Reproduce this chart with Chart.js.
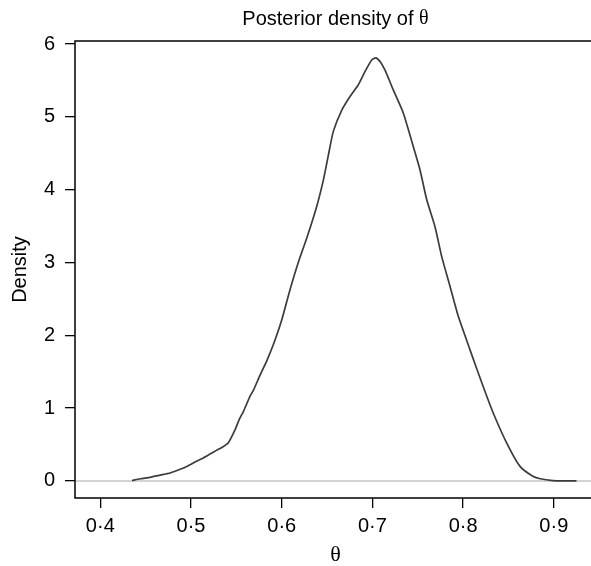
<!DOCTYPE html>
<html>
<head>
<meta charset="utf-8">
<script src="https://cdn.jsdelivr.net/npm/chart.js@4.4.1/dist/chart.umd.min.js"></script>
<style>
  html, body { margin: 0; padding: 0; background: #fff; overflow: hidden; }
  #wrap { width: 591px; height: 566px; overflow: hidden; }
</style>
</head>
<body>
<div id="wrap"><canvas id="density-chart" width="600" height="566"></canvas></div>
<script>
// posterior density
const theta = [0.435, 0.444, 0.455, 0.466, 0.477, 0.488, 0.497,
  0.506, 0.514, 0.521, 0.528, 0.534, 0.541, 0.5485, 0.553, 0.558, 0.565,
  0.569, 0.576, 0.5835, 0.591, 0.600, 0.609, 0.618, 0.628, 0.6386, 0.6459,
  0.6514, 0.6569, 0.6661, 0.6753, 0.6845, 0.6918, 0.6992, 0.704, 0.709, 0.7139,
  0.723, 0.7341, 0.7451, 0.7525, 0.7599, 0.769, 0.7764, 0.7856, 0.7947, 0.8076,
  0.8223, 0.8333, 0.8481, 0.8627, 0.8774, 0.885, 0.899, 0.91, 0.925];
const density = [0.005, 0.03, 0.05, 0.08, 0.11, 0.16, 0.21,
  0.27, 0.32, 0.37, 0.42, 0.46, 0.52, 0.70, 0.84, 0.96, 1.16,
  1.25, 1.45, 1.65, 1.88, 2.21, 2.62, 2.99, 3.35, 3.77, 4.13,
  4.47, 4.80, 5.09, 5.28, 5.44, 5.62, 5.78, 5.81, 5.75, 5.64,
  5.37, 5.05, 4.59, 4.27, 3.86, 3.49, 3.08, 2.67, 2.26, 1.80,
  1.29, 0.93, 0.52, 0.20, 0.06, 0.03, 0.005, 0, 0];
const xTicks = [0.4, 0.5, 0.6, 0.7, 0.8, 0.9];
const xTickLabels = ["0·4", "0·5", "0·6", "0·7", "0·8", "0·9"];
const yTicks = [0, 1, 2, 3, 4, 5, 6];

const sans = "'Liberation Sans', Arial, Helvetica, sans-serif";
const serif = "'Liberation Serif', 'Times New Roman', serif";

const framePlugin = {
  id: "frame",
  beforeDatasetsDraw(chart) {
    const { ctx, chartArea, scales } = chart;
    const y0 = scales.y.getPixelForValue(0);
    ctx.save();
    ctx.strokeStyle = "#c4c4c4";
    ctx.lineWidth = 1.5;
    ctx.beginPath();
    ctx.moveTo(chartArea.left, y0);
    ctx.lineTo(chartArea.right, y0);
    ctx.stroke();
    ctx.restore();
  },
  afterDraw(chart) {
    const { ctx, chartArea } = chart;
    const cx = (chartArea.left + chartArea.right) / 2;
    const cy = (chartArea.top + chartArea.bottom) / 2;
    ctx.save();
    ctx.strokeStyle = "#000";
    ctx.lineWidth = 1.5;
    ctx.strokeRect(chartArea.left, chartArea.top, chartArea.right - chartArea.left, chartArea.bottom - chartArea.top);

    ctx.fillStyle = "#000";
    ctx.textBaseline = "middle";
    // title: sans text with a serif theta
    const part1 = "Posterior density of ";
    ctx.font = "20px " + sans;
    const w1 = ctx.measureText(part1).width;
    ctx.font = "20px " + serif;
    const w2 = ctx.measureText("θ").width;
    let tx = cx - (w1 + w2) / 2;
    ctx.textAlign = "left";
    ctx.font = "20px " + sans;
    ctx.fillText(part1, tx, 19);
    ctx.font = "20px " + serif;
    ctx.fillText("θ", tx + w1, 19);

    // axis titles
    ctx.textAlign = "center";
    ctx.font = "22px " + serif;
    ctx.fillText("θ", cx, 555);
    ctx.font = "20px " + sans;
    ctx.translate(20, cy);
    ctx.rotate(-Math.PI / 2);
    ctx.fillText("Density", 0, 0);
    ctx.restore();
  }
};

new Chart(document.getElementById("density-chart"), {
  type: "line",
  data: {
    datasets: [{
      data: theta.map((t, i) => ({ x: t, y: density[i] })),
      borderColor: "#3c3c3c",
      borderWidth: 1.7,
      pointRadius: 0,
      tension: 0.2,
      fill: false
    }]
  },
  options: {
    responsive: false,
    animation: false,
    layout: { padding: { top: 41, right: 4, left: 0, bottom: 0 } },
    plugins: {
      legend: { display: false },
      tooltip: { enabled: false }
    },
    scales: {
      x: {
        type: "linear",
        min: 0.3721,
        max: 0.9465,
        afterBuildTicks(scale) {
          scale.ticks = xTicks.map(v => ({ value: v }));
        },
        afterFit(scale) {
          scale.height = 68;
        },
        ticks: {
          color: "#000",
          padding: 6,
          maxRotation: 0,
          autoSkip: false,
          font: { family: sans, size: 20 },
          callback: (value) => xTickLabels[xTicks.indexOf(value)]
        },
        grid: { drawOnChartArea: false, drawTicks: true, tickLength: 10, color: "#000", lineWidth: 1.3 },
        border: { display: false }
      },
      y: {
        min: -0.234,
        max: 6.041,
        afterBuildTicks(scale) {
          scale.ticks = yTicks.map(v => ({ value: v }));
        },
        afterFit(scale) {
          scale.width = 75;
        },
        ticks: {
          color: "#000",
          padding: 10,
          font: { family: sans, size: 20 }
        },
        grid: { drawOnChartArea: false, drawTicks: true, tickLength: 10, color: "#000", lineWidth: 1.3 },
        border: { display: false }
      }
    }
  },
  plugins: [framePlugin]
});
</script>
</body>
</html>
